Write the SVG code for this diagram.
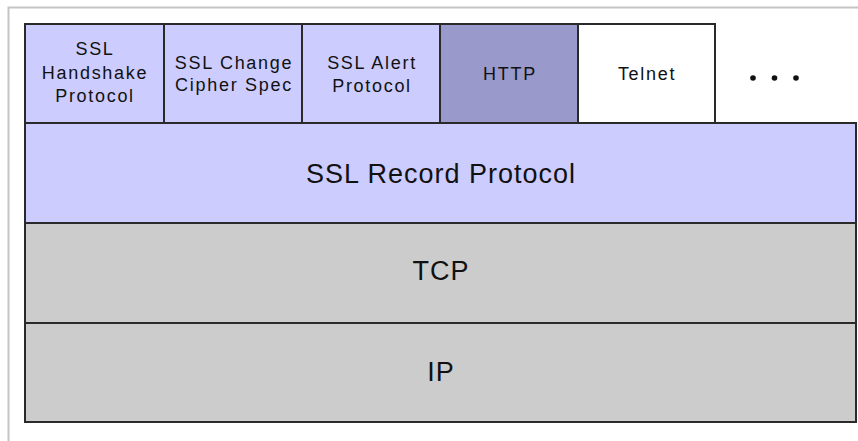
<svg xmlns="http://www.w3.org/2000/svg" width="858" height="441" viewBox="0 0 858 441">
<style>
.box{stroke:#2a2a2a;stroke-width:2}
.ssl{fill:#ccccff}
.http{fill:#9999cc}
.gray{fill:#cccccc}
.white{fill:#ffffff}
.s{font-family:"Liberation Sans",Arial,sans-serif;font-size:18px;letter-spacing:1.7px;fill:#111;text-anchor:middle}
.l{font-family:"Liberation Sans",Arial,sans-serif;font-size:27px;letter-spacing:1px;fill:#111;text-anchor:middle}
</style>
<rect x="0" y="0" width="858" height="441" fill="#ffffff"/>
<path d="M8.5,441 V7.5 H858" fill="none" stroke="#c4c4c4" stroke-width="2"/>
<g id="ssl-handshake">
<rect class="box ssl" x="25" y="24" width="139" height="99"/>
<text class="s" x="95" y="55">SSL</text>
<text class="s" x="95" y="78.5">Handshake</text>
<text class="s" x="95" y="102">Protocol</text>
</g>
<g id="ssl-change-cipher">
<rect class="box ssl" x="164" y="24" width="138" height="99"/>
<text class="s" x="234" y="68.5">SSL Change</text>
<text class="s" x="234" y="91">Cipher Spec</text>
</g>
<g id="ssl-alert">
<rect class="box ssl" x="302" y="24" width="138" height="99"/>
<text class="s" x="372" y="68.5">SSL Alert</text>
<text class="s" x="372" y="91.5">Protocol</text>
</g>
<g id="http">
<rect class="box http" x="440" y="24" width="138" height="99"/>
<text class="s" x="510" y="80">HTTP</text>
</g>
<g id="telnet">
<rect class="box white" x="578" y="24" width="137" height="99"/>
<text class="s" x="647" y="80">Telnet</text>
</g>
<g id="more">
<circle cx="753" cy="78" r="2.8" fill="#111"/>
<circle cx="774.5" cy="78" r="2.8" fill="#111"/>
<circle cx="796" cy="78" r="2.8" fill="#111"/>
</g>
<g id="ssl-record">
<rect class="box ssl" x="25" y="123" width="831" height="100"/>
<text class="l" x="441" y="182.5">SSL Record Protocol</text>
</g>
<g id="tcp">
<rect class="box gray" x="25" y="223" width="831" height="100"/>
<text class="l" x="441" y="280">TCP</text>
</g>
<g id="ip">
<rect class="box gray" x="25" y="323" width="831" height="99"/>
<text class="l" x="441" y="381">IP</text>
</g>
<g id="connectors"></g>
</svg>
